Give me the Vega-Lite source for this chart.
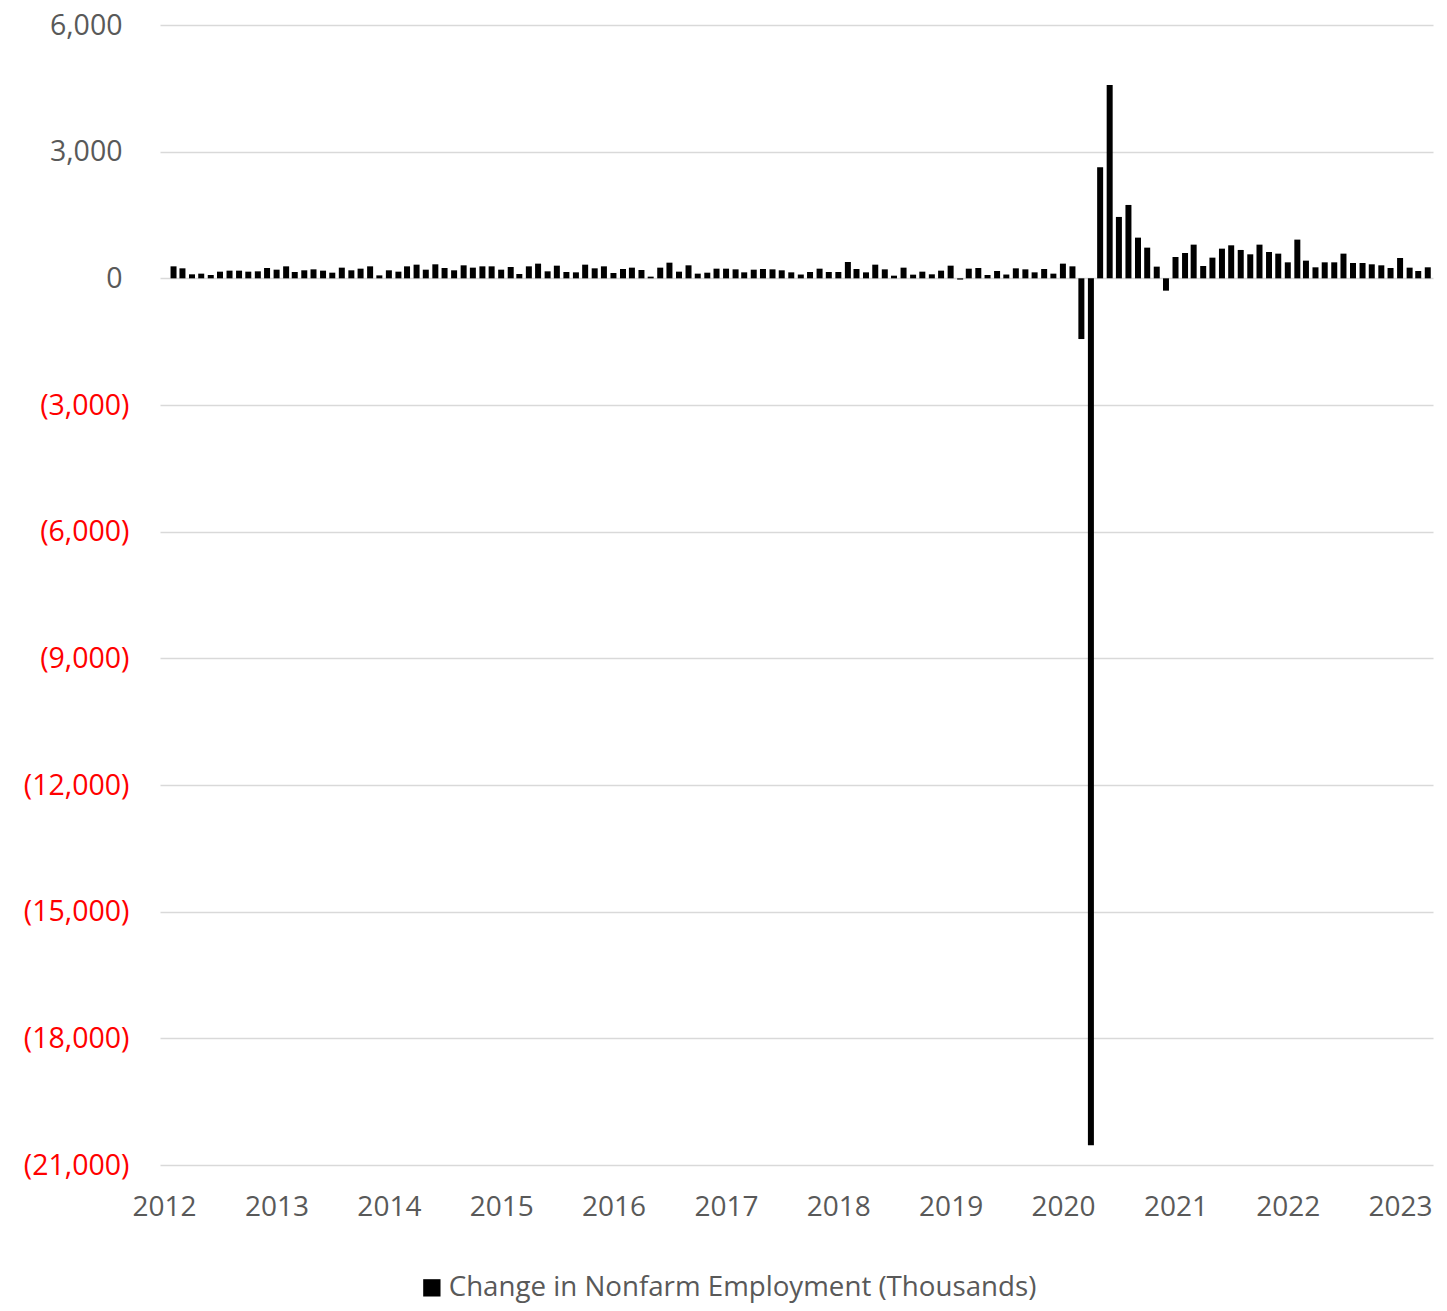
{
  "$schema": "https://vega.github.io/schema/vega-lite/v6.json",
  "autosize": {"type": "none"},
  "width": 1273,
  "height": 1140,
  "padding": {"left": 160, "top": 25, "right": 14, "bottom": 146},
  "background": "white",
  "config": {
    "font": "Open Sans",
    "view": {"stroke": null}
  },
  "data": {
    "format": {"parse": {"month": "date:'%Y-%m'"}},
    "values": [
      {"month": "2012-02", "change": 284}, {"month": "2012-03", "change": 237}, {"month": "2012-04", "change": 95},
      {"month": "2012-05", "change": 111}, {"month": "2012-06", "change": 79}, {"month": "2012-07", "change": 158},
      {"month": "2012-08", "change": 182}, {"month": "2012-09", "change": 182}, {"month": "2012-10", "change": 158},
      {"month": "2012-11", "change": 166}, {"month": "2012-12", "change": 245},
      {"month": "2013-01", "change": 205}, {"month": "2013-02", "change": 284}, {"month": "2013-03", "change": 150},
      {"month": "2013-04", "change": 190}, {"month": "2013-05", "change": 213}, {"month": "2013-06", "change": 182},
      {"month": "2013-07", "change": 134}, {"month": "2013-08", "change": 253}, {"month": "2013-09", "change": 190},
      {"month": "2013-10", "change": 229}, {"month": "2013-11", "change": 284}, {"month": "2013-12", "change": 70},
      {"month": "2014-01", "change": 190}, {"month": "2014-02", "change": 158}, {"month": "2014-03", "change": 284},
      {"month": "2014-04", "change": 324}, {"month": "2014-05", "change": 205}, {"month": "2014-06", "change": 332},
      {"month": "2014-07", "change": 245}, {"month": "2014-08", "change": 190}, {"month": "2014-09", "change": 308},
      {"month": "2014-10", "change": 253}, {"month": "2014-11", "change": 284}, {"month": "2014-12", "change": 284},
      {"month": "2015-01", "change": 205}, {"month": "2015-02", "change": 269}, {"month": "2015-03", "change": 103},
      {"month": "2015-04", "change": 284}, {"month": "2015-05", "change": 348}, {"month": "2015-06", "change": 166},
      {"month": "2015-07", "change": 300}, {"month": "2015-08", "change": 150}, {"month": "2015-09", "change": 142},
      {"month": "2015-10", "change": 324}, {"month": "2015-11", "change": 237}, {"month": "2015-12", "change": 284},
      {"month": "2016-01", "change": 126}, {"month": "2016-02", "change": 221}, {"month": "2016-03", "change": 253},
      {"month": "2016-04", "change": 198}, {"month": "2016-05", "change": 40}, {"month": "2016-06", "change": 253},
      {"month": "2016-07", "change": 371}, {"month": "2016-08", "change": 158}, {"month": "2016-09", "change": 308},
      {"month": "2016-10", "change": 111}, {"month": "2016-11", "change": 134}, {"month": "2016-12", "change": 229},
      {"month": "2017-01", "change": 229}, {"month": "2017-02", "change": 213}, {"month": "2017-03", "change": 142},
      {"month": "2017-04", "change": 205}, {"month": "2017-05", "change": 221}, {"month": "2017-06", "change": 213},
      {"month": "2017-07", "change": 190}, {"month": "2017-08", "change": 142}, {"month": "2017-09", "change": 90},
      {"month": "2017-10", "change": 150}, {"month": "2017-11", "change": 229}, {"month": "2017-12", "change": 150},
      {"month": "2018-01", "change": 150}, {"month": "2018-02", "change": 387}, {"month": "2018-03", "change": 221},
      {"month": "2018-04", "change": 142}, {"month": "2018-05", "change": 324}, {"month": "2018-06", "change": 213},
      {"month": "2018-07", "change": 63}, {"month": "2018-08", "change": 253}, {"month": "2018-09", "change": 87},
      {"month": "2018-10", "change": 158}, {"month": "2018-11", "change": 95}, {"month": "2018-12", "change": 182},
      {"month": "2019-01", "change": 300}, {"month": "2019-02", "change": -30}, {"month": "2019-03", "change": 229},
      {"month": "2019-04", "change": 245}, {"month": "2019-05", "change": 79}, {"month": "2019-06", "change": 174},
      {"month": "2019-07", "change": 90}, {"month": "2019-08", "change": 237}, {"month": "2019-09", "change": 213},
      {"month": "2019-10", "change": 142}, {"month": "2019-11", "change": 221}, {"month": "2019-12", "change": 111},
      {"month": "2020-01", "change": 348}, {"month": "2020-02", "change": 284}, {"month": "2020-03", "change": -1438},
      {"month": "2020-04", "change": -20530}, {"month": "2020-05", "change": 2631}, {"month": "2020-06", "change": 4578},
      {"month": "2020-07", "change": 1454}, {"month": "2020-08", "change": 1738}, {"month": "2020-09", "change": 964},
      {"month": "2020-10", "change": 727}, {"month": "2020-11", "change": 277}, {"month": "2020-12", "change": -292},
      {"month": "2021-01", "change": 506}, {"month": "2021-02", "change": 600}, {"month": "2021-03", "change": 798},
      {"month": "2021-04", "change": 292}, {"month": "2021-05", "change": 490}, {"month": "2021-06", "change": 703},
      {"month": "2021-07", "change": 782}, {"month": "2021-08", "change": 672}, {"month": "2021-09", "change": 569},
      {"month": "2021-10", "change": 798}, {"month": "2021-11", "change": 624}, {"month": "2021-12", "change": 585},
      {"month": "2022-01", "change": 379}, {"month": "2022-02", "change": 917}, {"month": "2022-03", "change": 419},
      {"month": "2022-04", "change": 261}, {"month": "2022-05", "change": 379}, {"month": "2022-06", "change": 379},
      {"month": "2022-07", "change": 585}, {"month": "2022-08", "change": 363}, {"month": "2022-09", "change": 363},
      {"month": "2022-10", "change": 332}, {"month": "2022-11", "change": 308}, {"month": "2022-12", "change": 245},
      {"month": "2023-01", "change": 482}, {"month": "2023-02", "change": 253}, {"month": "2023-03", "change": 174},
      {"month": "2023-04", "change": 261}
    ]
  },
  "mark": {"type": "bar", "size": 6},
  "encoding": {
    "x": {
      "field": "month",
      "type": "temporal",
      "scale": {
        "padding": 0,
        "domain": [
          {"year": 2011, "month": 12, "date": 19},
          {"year": 2023, "month": 4, "date": 18}
        ]
      },
      "axis": {
        "title": null,
        "format": "%Y",
        "tickCount": {"interval": "year", "step": 1},
        "domain": false,
        "ticks": false,
        "tickSize": 0,
        "grid": false,
        "labelPadding": 28,
        "labelFontSize": 28,
        "labelColor": "#595959",
        "labelFlush": false,
        "labelOverlap": false
      }
    },
    "y": {
      "field": "change",
      "type": "quantitative",
      "scale": {"domain": [-21000, 6000], "nice": false, "zero": true},
      "axis": {
        "title": null,
        "values": [6000, 3000, 0, -3000, -6000, -9000, -12000, -15000, -18000, -21000],
        "labelExpr": "datum.value < 0 ? '(' + format(-datum.value, ',') + ')' : format(datum.value, ',')",
        "labelColor": {"condition": {"test": "datum.value < 0", "value": "#FF0000"}, "value": "#595959"},
        "labelPadding": {"condition": {"test": "datum.value < 0", "value": 31}, "value": 38},
        "labelFontSize": 28.5,
        "domain": false,
        "ticks": false,
        "tickSize": 0,
        "grid": true,
        "gridColor": "#D9D9D9",
        "gridWidth": 1.3
      }
    },
    "color": {
      "datum": "Change in Nonfarm Employment (Thousands)",
      "type": "nominal",
      "scale": {"range": ["#000000"]},
      "legend": {
        "title": null,
        "orient": "none",
        "legendX": 258,
        "legendY": 1249,
        "padding": 0,
        "symbolType": "square",
        "symbolSize": 300,
        "symbolStrokeWidth": 0,
        "labelFontSize": 27.7,
        "labelColor": "#595959",
        "labelOffset": 3,
        "labelLimit": 0
      }
    }
  }
}
